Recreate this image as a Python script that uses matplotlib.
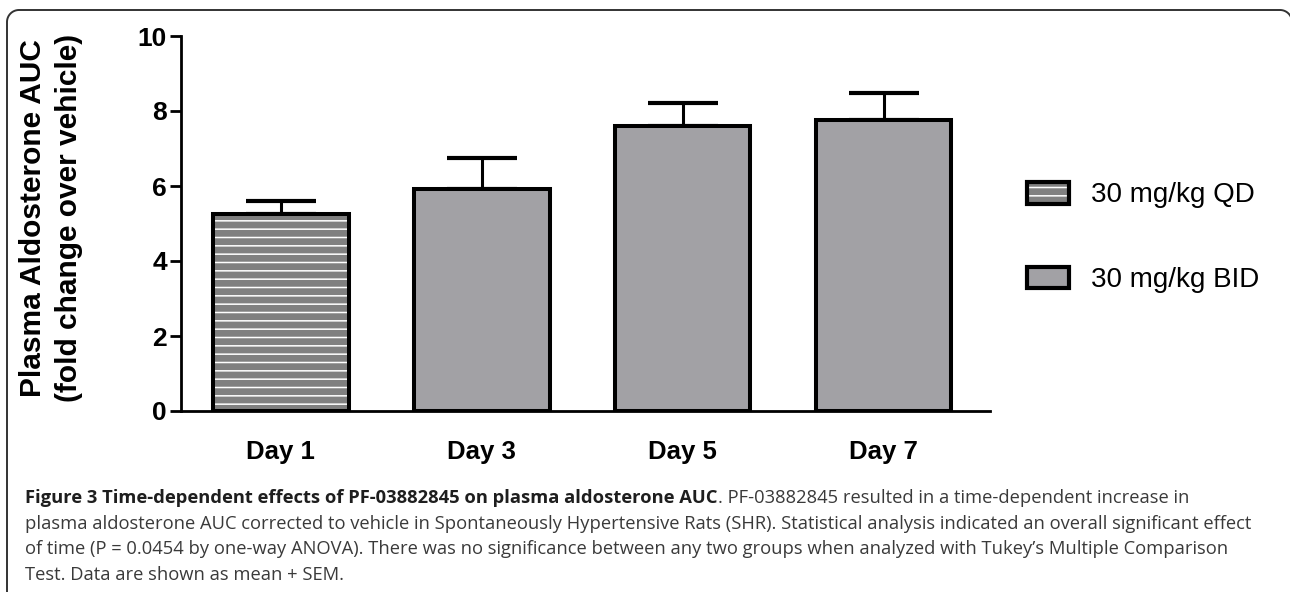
import matplotlib
matplotlib.use('Agg')
import numpy as np
import matplotlib.pyplot as plt
from matplotlib.patches import Patch
from matplotlib.legend_handler import HandlerTuple

# data
days = ['Day 1', 'Day 3', 'Day 5', 'Day 7']
auc_mean = [5.26, 5.93, 7.60, 7.75]
auc_sem = [0.35, 0.83, 0.61, 0.72]
dose_group = ['QD', 'BID', 'BID', 'BID']
legend_labels = ['30 mg/kg QD', '30 mg/kg BID']
y_ticks = [0, 2, 4, 6, 8, 10]
y_label = 'Plasma Aldosterone AUC\n(fold change over vehicle)'

caption_bold = 'Figure 3 Time-dependent effects of PF-03882845 on plasma aldosterone AUC'
caption_lines = [
    '. PF-03882845 resulted in a time-dependent increase in',
    'plasma aldosterone AUC corrected to vehicle in Spontaneously Hypertensive Rats (SHR). '
    'Statistical analysis indicated an overall significant effect',
    'of time (P = 0.0454 by one-way ANOVA). There was no significance between any two groups '
    'when analyzed with Tukey\u2019s Multiple Comparison',
    'Test. Data are shown as mean + SEM.',
]

W, H = 1290, 592
qd_color = '#808080'
bid_color = '#a2a1a5'

plt.rcParams['hatch.linewidth'] = 1.1
plt.rcParams['font.family'] = 'Liberation Sans'

fig = plt.figure(figsize=(W / 100, H / 100), dpi=100)

# rounded panel frame, drawn in pixel units on a background axes
bg = fig.add_axes([0, 0, 1, 1], zorder=-1)
bg.set_xlim(0, W)
bg.set_ylim(H, 0)
bg.axis('off')
left, top, right, rad = 7, 10, 1292, 12
t = np.linspace(0, np.pi / 2, 20)
fx = np.concatenate([[left], left + rad - rad * np.cos(t), right - rad + rad * np.sin(t), [right]])
fy = np.concatenate([[H + 20], top + rad - rad * np.sin(t), top + rad - rad * np.cos(t), [H + 20]])
bg.plot(fx, fy, color='#333333', lw=1.4, solid_capstyle='butt')

ax = fig.add_axes([181 / W, 1 - 411 / H, (990 - 181) / W, (411 - 36) / H])

x = np.arange(len(days))
bw = 0.675
for i in range(len(days)):
    if dose_group[i] == 'QD':
        ax.bar(x[i], auc_mean[i], bw, color=qd_color, edgecolor='white',
               hatch='--', linewidth=0, zorder=2)
    else:
        ax.bar(x[i], auc_mean[i], bw, color=bid_color, linewidth=0, zorder=2)
    ax.bar(x[i], auc_mean[i], bw, fill=False, edgecolor='black', linewidth=2.9, zorder=3)

ax.errorbar(x, auc_mean, yerr=[np.zeros(len(x)), auc_sem], fmt='none',
            ecolor='black', elinewidth=2.2, capsize=25, capthick=3, zorder=1)

ax.set_xlim(-0.497, 3.53)
ax.set_ylim(0, 10)
ax.set_yticks(y_ticks)
ax.set_xticks(x)
ax.set_xticklabels(days, fontsize=18.5, fontweight='bold')
ax.tick_params(axis='x', length=0, pad=21)
ax.tick_params(axis='y', length=8, width=2, pad=2, labelsize=19)
for lab in ax.get_yticklabels():
    lab.set_fontweight('bold')
for s in ['top', 'right']:
    ax.spines[s].set_visible(False)
for s in ['left', 'bottom']:
    ax.spines[s].set_linewidth(2)
ax.patch.set_alpha(0)

fig.text(51 / W, 1 - 218 / H, y_label, rotation=90, ha='center', va='center',
         fontsize=21.5, fontweight='bold', multialignment='center', linespacing=1.35)

# legend: fill (with white stripes for QD) overlaid by a black outline
h_qd = (Patch(facecolor=qd_color, edgecolor='white', hatch='--', linewidth=0),
        Patch(fill=False, edgecolor='black', linewidth=3))
h_bid = (Patch(facecolor=bid_color, linewidth=0),
         Patch(fill=False, edgecolor='black', linewidth=3))
fig.legend([h_qd, h_bid], legend_labels,
           handler_map={tuple: HandlerTuple(ndivide=1, pad=0)},
           loc='center left', bbox_to_anchor=(1027 / W, 1 - 237.5 / H),
           frameon=False, fontsize=20, borderpad=0, borderaxespad=0,
           handlelength=1.51, handleheight=0.83, handletextpad=0.8, labelspacing=2.1)

# caption, sized so that no line runs past the measured right margin
fig.canvas.draw()
r = fig.canvas.get_renderer()
cap_x = 25
base = [503, 528.7, 554.4, 580]
fs = 11
scale = 10.0
for line in caption_lines[1:3]:
    probe = fig.text(0, 0, line, fontsize=fs, family='Open Sans')
    scale = min(scale, (1258 - cap_x) / probe.get_window_extent(r).width)
    probe.remove()
fs = fs * scale

tb = fig.text(cap_x / W, 1 - base[0] / H, caption_bold, fontsize=fs, fontweight='bold',
              family='Open Sans', color='#1e1e1e', va='baseline')
wb = tb.get_window_extent(r).width
fig.text((cap_x + wb) / W, 1 - base[0] / H, caption_lines[0], fontsize=fs,
         family='Open Sans', color='#3a3a3a', va='baseline')
for i in range(1, len(caption_lines)):
    fig.text(cap_x / W, 1 - base[i] / H, caption_lines[i], fontsize=fs,
             family='Open Sans', color='#3a3a3a', va='baseline')

fig.savefig('out.png', dpi=100)
